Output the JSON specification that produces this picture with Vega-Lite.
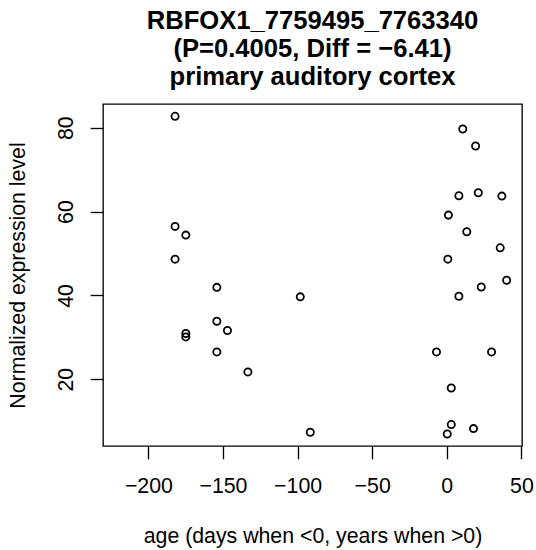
{
  "$schema": "https://vega.github.io/schema/vega-lite/v6.json",
  "width": 419,
  "height": 342,
  "autosize": {"type": "none"},
  "padding": {"left": 103, "top": 104, "right": 14, "bottom": 104},
  "background": "white",
  "title": {
    "text": ["RBFOX1_7759495_7763340", "(P=0.4005, Diff = −6.41)", "primary auditory cortex"],
    "font": "Liberation Sans",
    "fontSize": 25.6,
    "fontWeight": "bold",
    "color": "black",
    "lineHeight": 28,
    "anchor": "middle",
    "frame": "group",
    "baseline": "top",
    "offset": 13
  },
  "config": {
    "view": {"stroke": "black", "strokeWidth": 1.33},
    "axis": {
      "domain": false,
      "grid": false,
      "ticks": true,
      "tickColor": "black",
      "tickWidth": 1.33,
      "tickSize": 12.8,
      "labelFont": "Liberation Sans",
      "labelFontSize": 21.3,
      "labelColor": "black",
      "titleFont": "Liberation Sans",
      "titleFontSize": 21.3,
      "titleFontWeight": "normal",
      "titleColor": "black"
    }
  },
  "data": {
    "values": [
      {"age": -182.1, "expr": 82.72},
      {"age": -182.1, "expr": 56.46},
      {"age": -182.1, "expr": 48.65},
      {"age": -174.9, "expr": 54.38},
      {"age": -174.9, "expr": 30.91},
      {"age": -174.9, "expr": 30.10},
      {"age": -154.1, "expr": 41.92},
      {"age": -154.1, "expr": 33.84},
      {"age": -154.1, "expr": 26.51},
      {"age": -147.0, "expr": 31.62},
      {"age": -133.3, "expr": 21.74},
      {"age": -98.2, "expr": 39.65},
      {"age": -91.5, "expr": 7.34},
      {"age": 10.7, "expr": 79.69},
      {"age": 19.3, "expr": 75.63},
      {"age": 8.1, "expr": 63.76},
      {"age": 21.1, "expr": 64.48},
      {"age": 36.9, "expr": 63.69},
      {"age": 1.1, "expr": 59.15},
      {"age": 13.4, "expr": 55.17},
      {"age": 35.8, "expr": 51.35},
      {"age": 0.7, "expr": 48.65},
      {"age": 40.1, "expr": 43.6},
      {"age": 23.1, "expr": 42.0},
      {"age": 8.1, "expr": 39.81},
      {"age": -6.9, "expr": 26.51},
      {"age": 30.0, "expr": 26.51},
      {"age": 3.0, "expr": 17.92},
      {"age": 3.0, "expr": 9.18},
      {"age": 0.3, "expr": 6.93},
      {"age": 17.9, "expr": 8.22}
    ]
  },
  "mark": {"type": "point", "shape": "circle", "filled": false, "stroke": "black", "strokeWidth": 1.8, "size": 52, "opacity": 1},
  "encoding": {
    "x": {
      "field": "age",
      "type": "quantitative",
      "scale": {"domain": [-230.4, 50.4], "nice": false, "zero": false},
      "axis": {
        "values": [-200, -150, -100, -50, 0, 50],
        "title": "age (days when <0, years when >0)",
        "labelAngle": 0,
        "labelAlign": "center",
        "labelBaseline": "alphabetic",
        "labelPadding": 33.5,
        "labelFlush": false,
        "labelOverlap": false,
        "titleBaseline": "alphabetic",
        "titleY": 96.7
      }
    },
    "y": {
      "field": "expr",
      "type": "quantitative",
      "scale": {"domain": [4.07, 85.66], "nice": false, "zero": false},
      "axis": {
        "values": [20, 40, 60, 80],
        "title": "Normalized expression level",
        "labelAngle": -90,
        "labelAlign": "center",
        "labelBaseline": "alphabetic",
        "labelPadding": 18.2,
        "labelFlush": false,
        "labelOverlap": false,
        "titleAngle": -90,
        "titleAlign": "center",
        "titleBaseline": "alphabetic",
        "titleX": -79
      }
    }
  }
}
